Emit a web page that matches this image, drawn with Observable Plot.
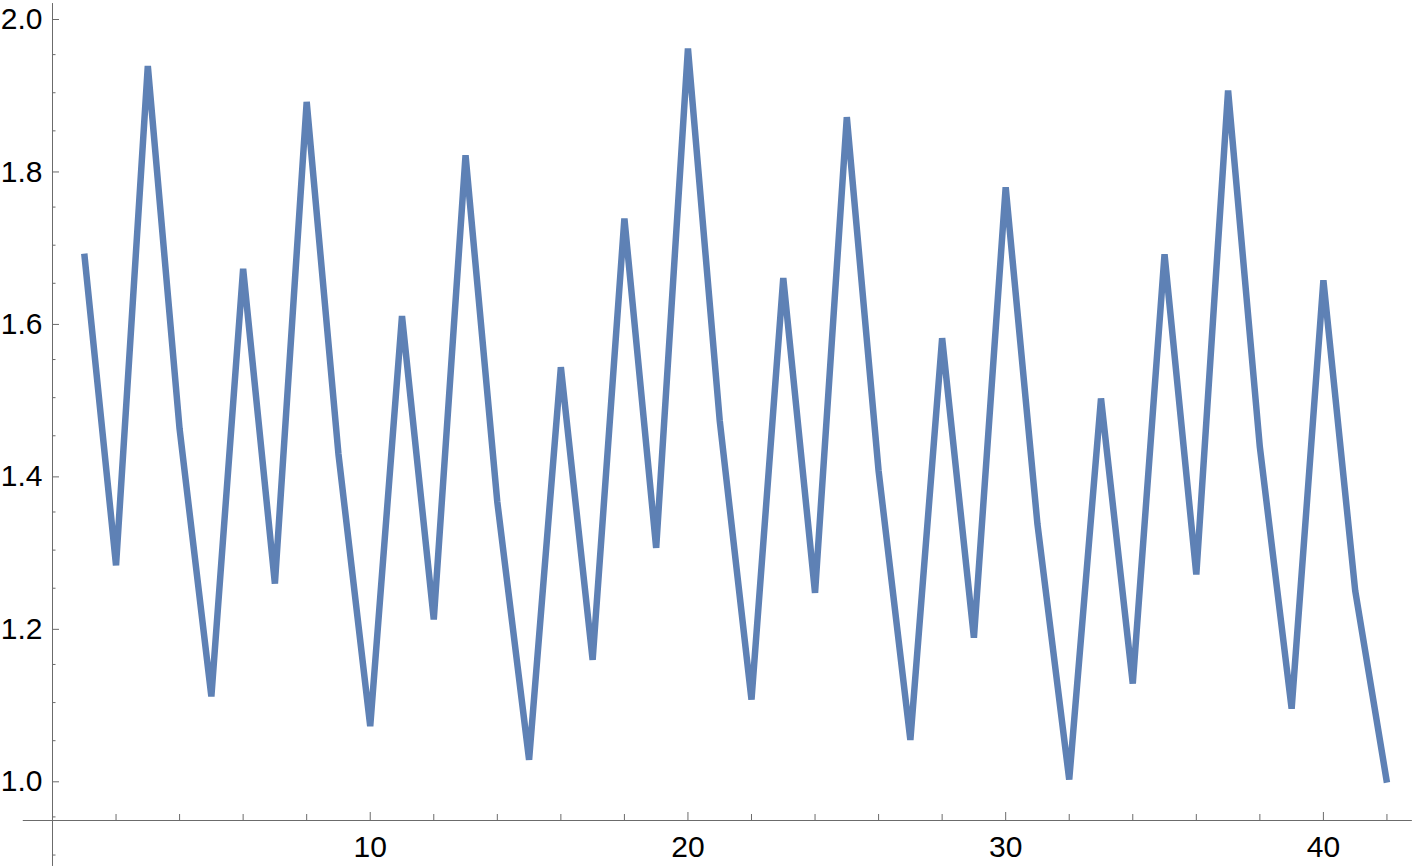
<!DOCTYPE html>
<html>
<head>
<meta charset="utf-8">
<script src="https://cdn.jsdelivr.net/npm/d3@7"></script>
<script src="https://cdn.jsdelivr.net/npm/@observablehq/plot@0.6"></script>
<style>
  html, body { margin: 0; padding: 0; background: #fff; overflow: hidden; }
  #chart svg { display: block; }
</style>
</head>
<body>
<div id="chart"></div>
<script>
// Series index (x) and values (y)
const xIndex = d3.range(1, 43);
const yValues = [
  1.689, 1.280, 1.935, 1.459, 1.108, 1.669, 1.256, 1.888, 1.426, 1.069,
  1.607, 1.209, 1.818, 1.363, 1.025, 1.540, 1.156, 1.735, 1.303, 1.958,
  1.470, 1.104, 1.657, 1.244, 1.868, 1.404, 1.051, 1.578, 1.185, 1.776,
  1.334, 0.999, 1.499, 1.125, 1.688, 1.268, 1.903, 1.435, 1.092, 1.654,
  1.247, 0.995
];

// Tick values and labels
const xMajorTicks = [10, 20, 30, 40];
const xMinorTicks = [2, 4, 6, 8, 12, 14, 16, 18, 22, 24, 26, 28, 32, 34, 36, 38, 42];
const yMajorTicks = [1.0, 1.2, 1.4, 1.6, 1.8, 2.0];
const yMinorTicks = [0.90, 0.95, 1.05, 1.10, 1.15, 1.25, 1.30, 1.35, 1.45, 1.50, 1.55,
                     1.65, 1.70, 1.75, 1.85, 1.90, 1.95];

// Axis geometry (Mathematica-style axes crossing at x = 0, y ≈ 0.945)
const xDomain = [0, 42.93];
const yDomain = [0.9453, 2.021];
const xAxisExtent = [-0.92, 42.8];
const yAxisExtent = [0.885, 2.017];

const data = xIndex.map((x, i) => ({x, y: yValues[i]}));

const axisColor = "#6b6b6b";
const font = "'Liberation Sans', Arial, Helvetica, sans-serif";

const chart = Plot.plot({
  width: 1416,
  height: 866,
  marginLeft: 52,
  marginRight: 0,
  marginTop: 0,
  marginBottom: 46,
  style: {fontFamily: font, fontSize: "30px", color: "#000", background: "#fff", overflow: "visible"},
  x: {domain: xDomain, axis: null},
  y: {domain: yDomain, axis: null},
  marks: [
    // axis lines
    Plot.ruleY([yDomain[0]], {x1: xAxisExtent[0], x2: xAxisExtent[1], stroke: axisColor, strokeWidth: 1}),
    Plot.ruleX([0], {y1: yAxisExtent[0], y2: yAxisExtent[1], stroke: axisColor, strokeWidth: 1}),
    // x ticks (pointing up into the plot)
    Plot.axisX(xMajorTicks, {anchor: "bottom", tickSize: -8, tickPadding: 23, stroke: axisColor,
      tickFormat: d => String(d), fill: "#000", fontSize: 30, label: null}),
    Plot.axisX(xMinorTicks, {anchor: "bottom", tickSize: -6, text: null, stroke: axisColor, label: null}),
    // y ticks (pointing right into the plot)
    Plot.axisY(yMajorTicks, {anchor: "left", tickSize: -7, tickPadding: 17, stroke: axisColor,
      tickFormat: d => d.toFixed(1), fill: "#000", fontSize: 30, dy: 3, label: null}),
    Plot.axisY(yMinorTicks, {anchor: "left", tickSize: -3.5, text: null, stroke: axisColor, label: null}),
    // the series
    Plot.line(data, {x: "x", y: "y", stroke: "#5E81B5", strokeWidth: 6.5,
      strokeLinejoin: "miter", strokeLinecap: "butt", strokeMiterlimit: 1})
  ]
});

document.getElementById("chart").appendChild(chart);
</script>
</body>
</html>
